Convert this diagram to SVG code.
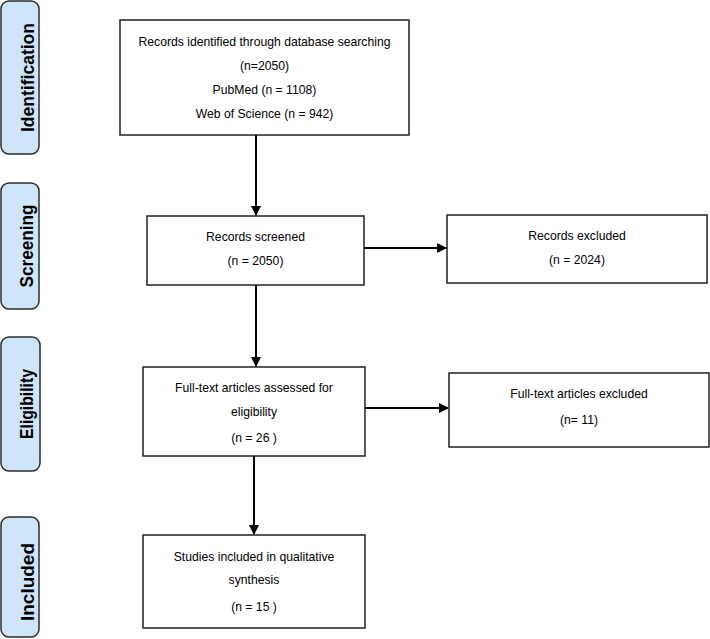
<svg xmlns="http://www.w3.org/2000/svg" width="710" height="639" viewBox="0 0 710 639">
<defs>
<marker id="ah" markerWidth="10" markerHeight="10" refX="9" refY="5" orient="auto" markerUnits="userSpaceOnUse">
<path d="M0,0 L10,5 L0,10 Z" fill="#000"/>
</marker>
<style>
.stage rect{fill:#cfe6fa;stroke:#2b2b2b;stroke-width:1.5}
.stage text{font-family:"Liberation Sans",Arial,sans-serif;font-weight:bold;font-size:19px;fill:#000;text-anchor:middle}
.box rect{fill:#fff;stroke:#222;stroke-width:1.5}
.box text{font-family:"Liberation Sans",Arial,sans-serif;font-size:12.2px;fill:#000;text-anchor:middle}
.conn line{stroke:#000;stroke-width:2;marker-end:url(#ah)}
</style>
</defs>
<rect width="710" height="639" fill="#fff"/>
<g id="stage-identification" class="stage">
<rect x="1" y="1" width="38" height="153" rx="8"/>
<text transform="translate(33.5,77.5) rotate(-90)" textLength="109" lengthAdjust="spacingAndGlyphs">Identification</text>
</g>
<g id="stage-screening" class="stage">
<rect x="1" y="183" width="38" height="126" rx="8"/>
<text transform="translate(33,246) rotate(-90)" textLength="83" lengthAdjust="spacingAndGlyphs">Screening</text>
</g>
<g id="stage-eligibility" class="stage">
<rect x="1" y="337" width="39" height="134" rx="8"/>
<text transform="translate(33,404) rotate(-90)" textLength="70" lengthAdjust="spacingAndGlyphs">Eligibility</text>
</g>
<g id="stage-included" class="stage">
<rect x="1" y="517" width="38" height="120" rx="8"/>
<text transform="translate(33.5,582) rotate(-90)" textLength="78" lengthAdjust="spacingAndGlyphs">Included</text>
</g>
<g id="identified" class="box">
<rect x="120" y="20" width="289" height="115"/>
<text x="264.5" y="46">Records identified through database searching</text>
<text x="264.5" y="70">(n=2050)</text>
<text x="264.5" y="94">PubMed (n = 1108)</text>
<text x="264.5" y="118">Web of Science (n = 942)</text>
</g>
<g id="screened" class="box">
<rect x="147" y="216" width="217" height="69"/>
<text x="255.5" y="241">Records screened</text>
<text x="255.5" y="265">(n = 2050)</text>
</g>
<g id="excluded" class="box">
<rect x="447" y="215" width="260" height="68"/>
<text x="577" y="240">Records excluded</text>
<text x="577" y="264">(n = 2024)</text>
</g>
<g id="fulltext" class="box">
<rect x="143" y="367" width="222" height="89"/>
<text x="254" y="392">Full-text articles assessed for</text>
<text x="254" y="416">eligibility</text>
<text x="254" y="442">(n = 26 )</text>
</g>
<g id="fulltext-excluded" class="box">
<rect x="449" y="373" width="260" height="74"/>
<text x="579" y="398">Full-text articles excluded</text>
<text x="579" y="424">(n= 11)</text>
</g>
<g id="included" class="box">
<rect x="143" y="535" width="222" height="93"/>
<text x="254" y="561">Studies included in qualitative</text>
<text x="254" y="584">synthesis</text>
<text x="254" y="611">(n = 15 )</text>
</g>
<g id="connectors" class="conn">
<line x1="256" y1="135" x2="256" y2="215"/>
<line x1="256" y1="285" x2="256" y2="366"/>
<line x1="254" y1="456" x2="254" y2="534"/>
<line x1="364" y1="248" x2="446" y2="248"/>
<line x1="365" y1="408" x2="448" y2="408"/>
</g>
</svg>
